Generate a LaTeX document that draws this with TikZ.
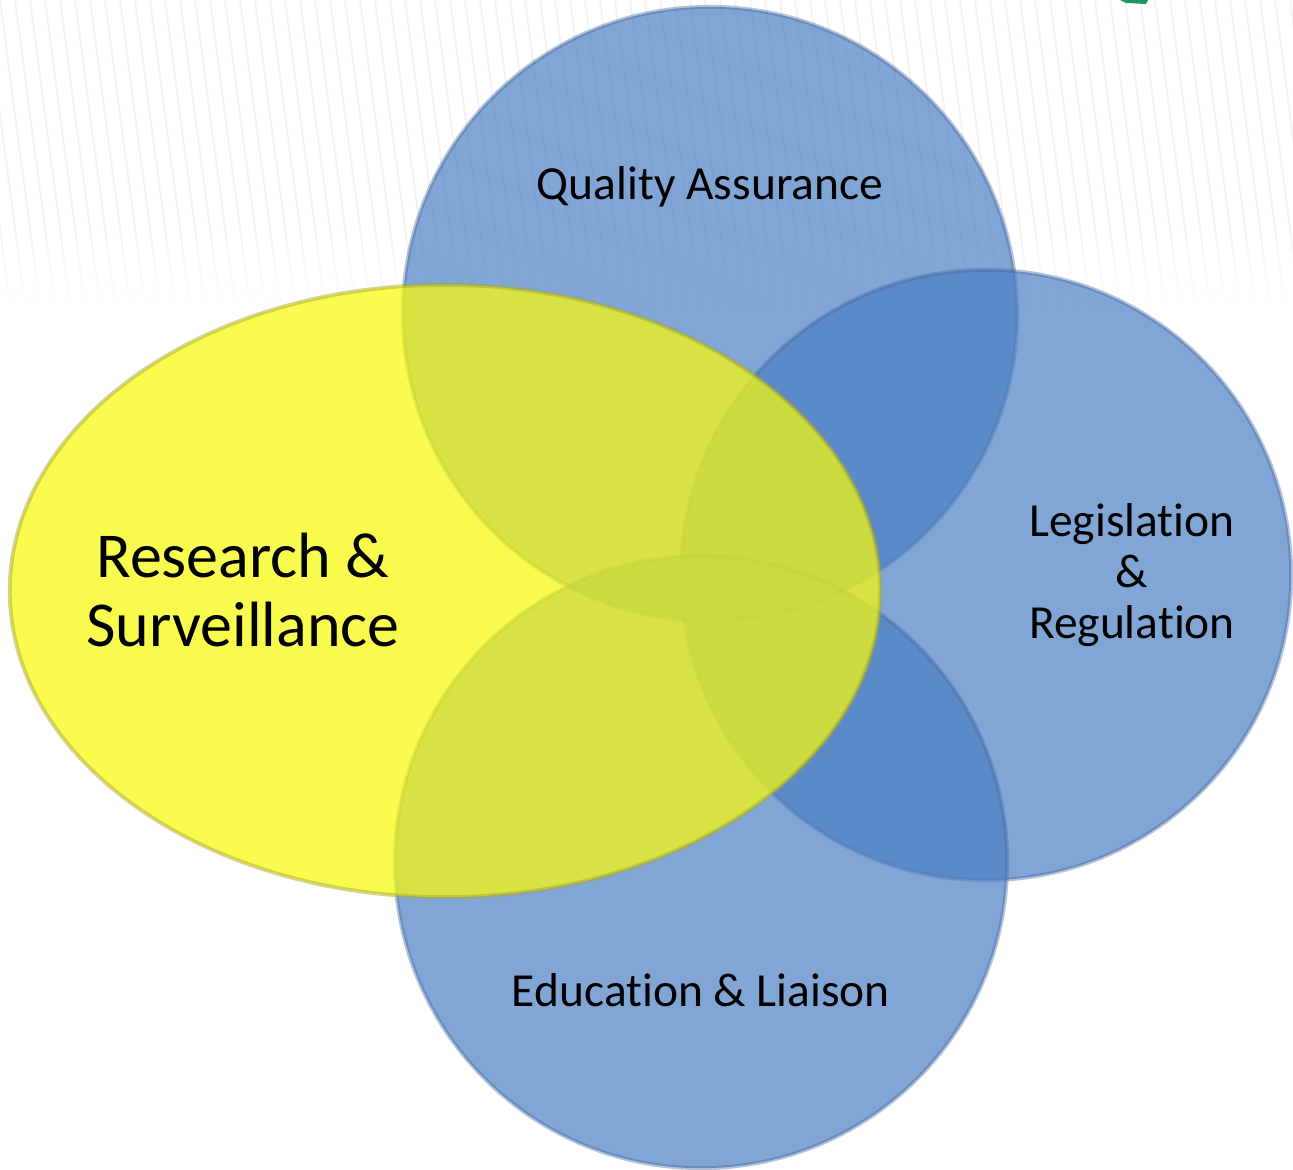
\documentclass[tikz,border=0pt]{standalone}
\usepackage{fontspec}
\setmainfont{Carlito}[Ligatures={NoCommon}]
\usetikzlibrary{fadings}
\definecolor{cblue}{RGB}{76,127,196}
\definecolor{cblueedge}{RGB}{70,105,160}
\definecolor{cyel}{RGB}{248,251,12}
\definecolor{cyeledge}{RGB}{170,170,40}
\definecolor{cgreen}{RGB}{30,150,100}
\tikzset{
  bluecirc/.style={fill=cblue, fill opacity=0.7, draw=cblueedge, draw opacity=0.4, line width=1.1pt},
  yelcirc/.style={fill=cyel, fill opacity=0.72, draw=cyeledge, draw opacity=0.5, line width=1.1pt},
  stripe/.style={black!5, line width=0.5pt},
  lbl/.style={text=black, font=\fontsize{13.5}{14.6}\selectfont, align=center},
  biglbl/.style={text=black, font=\fontsize{18.2}{19.6}\selectfont, align=center}
}
\begin{document}
\begin{tikzpicture}[x=0.01cm,y=-0.01cm]
\useasboundingbox (0,0) rectangle (1293,1170);
\fill[white] (0,0) rectangle (1293,1170);
% faint background stripes
\foreach \i in {-4,...,88} \draw[stripe] ({\i*15},0) -- ({\i*15+40},305);
\fill[white, path fading=north] (-5,220) rectangle (1300,306);
% small green corner mark
\fill[cgreen] (1120,0) -- (1148,0) -- (1146,4) -- (1126,3) -- cycle;
% centres
\coordinate (qa) at (710,314);
\coordinate (lr) at (986,575);
\coordinate (el) at (701,862);
\coordinate (rs) at (445,591);
% circles
\filldraw[bluecirc] (qa) circle [radius=3.07cm];
\filldraw[bluecirc] (lr) circle [radius=3.05cm];
\filldraw[bluecirc] (el) circle [radius=3.06cm];
\filldraw[yelcirc] (rs) ellipse [x radius=4.35cm, y radius=3.06cm];
% labels
\node[lbl] (tqa) at (710,187) {Quality Assurance};
\node[lbl] (tlr) at (1132,575) {Legislation\\\&\\Regulation};
\node[lbl] (tel) at (701,990) {Education \& Liaison};
\node[biglbl] (trs) at (243,590) {Research \&\\Surveillance};
\end{tikzpicture}
\end{document}
